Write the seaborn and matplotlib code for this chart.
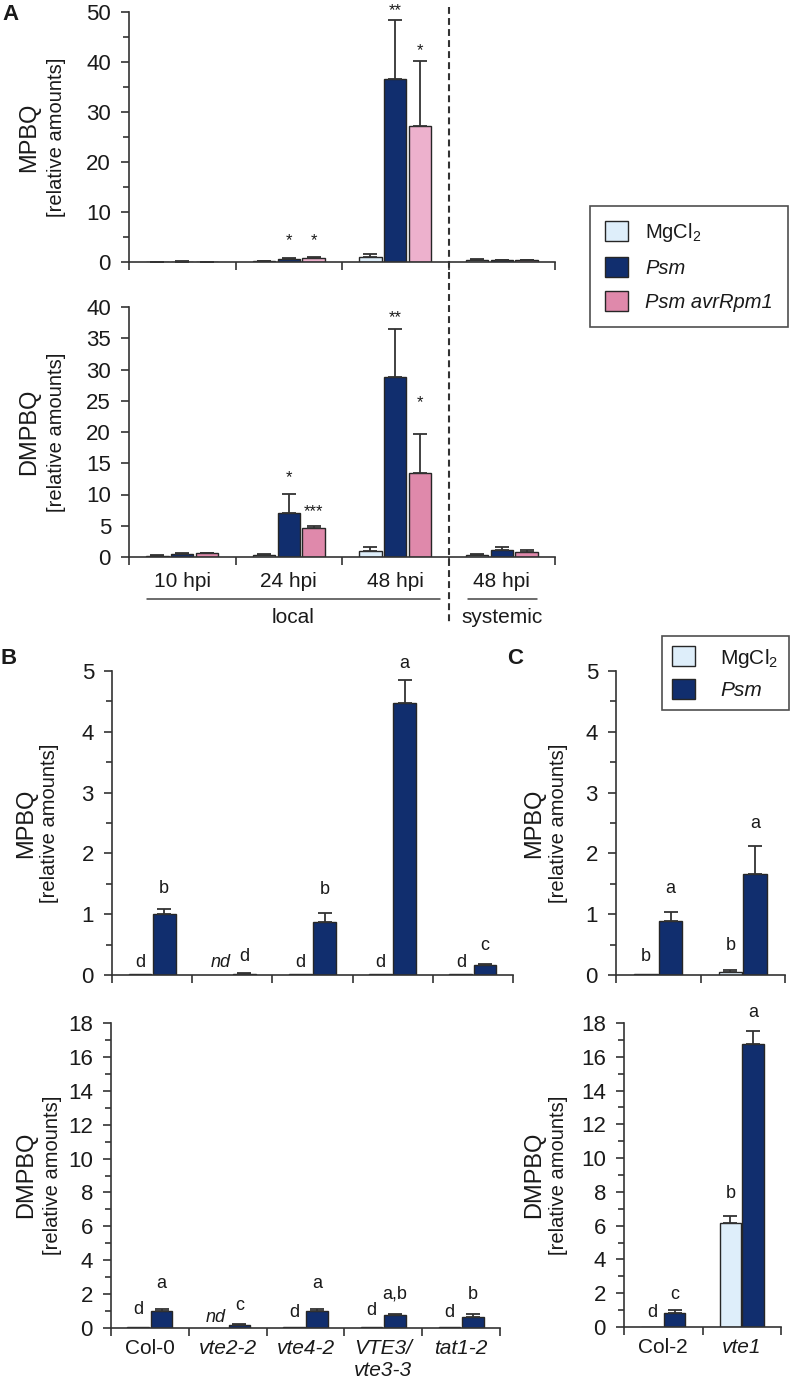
import numpy as np
import pandas as pd
import seaborn as sns
import matplotlib.pyplot as plt
from matplotlib.patches import Patch
from matplotlib.lines import Line2D
from matplotlib.ticker import MultipleLocator
from matplotlib import transforms

sns.set_style("ticks")
plt.rcParams['font.family'] = ['Liberation Sans', 'DejaVu Sans']
plt.rcParams['mathtext.fontset'] = 'custom'
plt.rcParams['mathtext.rm'] = 'Liberation Sans'
plt.rcParams['mathtext.it'] = 'Liberation Sans:italic'
plt.rcParams['axes.edgecolor'] = '#333333'
plt.rcParams['axes.linewidth'] = 1.2
plt.rcParams['xtick.color'] = '#333333'
plt.rcParams['ytick.color'] = '#333333'
plt.rcParams['xtick.labelcolor'] = '#1a1a1a'
plt.rcParams['ytick.labelcolor'] = '#1a1a1a'
plt.rcParams['text.color'] = '#1a1a1a'

W, H = 792, 1381

# colours
c_mg = "#deeefa"
c_psm = "#112e6e"
c_avr_top = "#edb1cd"
c_avr = "#df89ab"
edge = "#262626"

# ---------------- panel A (time course) ----------------
treat_a = ["MgCl2", "Psm", "Psm avrRpm1"]
times = ["10 hpi", "24 hpi", "48 hpi", "48 hpi sys"]
time_labels = ["10 hpi", "24 hpi", "48 hpi", "48 hpi"]

mpbq_mg = [0.05, 0.2, 1.0, 0.5]
mpbq_mg_err = [0.02, 0.05, 0.6, 0.1]
mpbq_psm = [0.1, 0.7, 36.7, 0.4]
mpbq_psm_err = [0.05, 0.2, 11.7, 0.1]
mpbq_avr = [0.05, 0.8, 27.2, 0.35]
mpbq_avr_err = [0.02, 0.25, 13.1, 0.15]
mpbq_star_grp = ["24 hpi", "24 hpi", "48 hpi", "48 hpi"]
mpbq_star_trt = ["Psm", "Psm avrRpm1", "Psm", "Psm avrRpm1"]
mpbq_star_txt = ["*", "*", "**", "*"]
mpbq_star_y = [5.2, 5.2, 51.2, 43.2]

dm_mg = [0.2, 0.4, 1.0, 0.4]
dm_mg_err = [0.05, 0.1, 0.6, 0.1]
dm_psm = [0.5, 7.1, 28.8, 1.1]
dm_psm_err = [0.2, 3.0, 7.7, 0.5]
dm_avr = [0.6, 4.6, 13.5, 0.8]
dm_avr_err = [0.1, 0.4, 6.2, 0.4]
dm_star_grp = ["24 hpi", "24 hpi", "48 hpi", "48 hpi"]
dm_star_trt = ["Psm", "Psm avrRpm1", "Psm", "Psm avrRpm1"]
dm_star_txt = ["*", "***", "**", "*"]
dm_star_y = [13.4, 8.0, 39.0, 25.4]

# ---------------- panel B (mutants) ----------------
treat_bc = ["MgCl2", "Psm"]
geno_b = ["Col-0", "vte2-2", "vte4-2", "VTE3/vte3-3", "tat1-2"]
geno_b_labels = ["Col-0", "vte2-2", "vte4-2", "VTE3/\nvte3-3", "tat1-2"]

b_mp_mg = [0.01, 0.0, 0.01, 0.015, 0.01]
b_mp_mg_err = [0, 0, 0, 0, 0]
b_mp_psm = [1.0, 0.02, 0.87, 4.47, 0.16]
b_mp_psm_err = [0.08, 0.005, 0.15, 0.38, 0.02]
b_mp_mg_txt = ["d", "nd", "d", "d", "d"]
b_mp_mg_ty = [0.21, 0.2, 0.21, 0.21, 0.21]
b_mp_psm_txt = ["b", "d", "b", "a", "c"]
b_mp_psm_ty = [1.43, 0.3, 1.4, 5.13, 0.49]

b_dm_mg = [0.03, 0.0, 0.03, 0.03, 0.03]
b_dm_mg_err = [0, 0, 0, 0, 0]
b_dm_psm = [1.0, 0.2, 1.0, 0.78, 0.62]
b_dm_psm_err = [0.1, 0.03, 0.12, 0.03, 0.2]
b_dm_mg_txt = ["d", "nd", "d", "d", "d"]
b_dm_mg_ty = [1.1, 0.6, 0.9, 1.05, 0.9]
b_dm_psm_txt = ["a", "c", "a", "a,b", "b"]
b_dm_psm_ty = [2.65, 1.3, 2.65, 2.0, 2.0]

# ---------------- panel C (vte1) ----------------
geno_c = ["Col-2", "vte1"]
c_mp_mg = [0.01, 0.05]
c_mp_mg_err = [0, 0.03]
c_mp_psm = [0.88, 1.66]
c_mp_psm_err = [0.15, 0.46]
c_mp_mg_txt = ["b", "b"]
c_mp_mg_ty = [0.3, 0.49]
c_mp_psm_txt = ["a", "a"]
c_mp_psm_ty = [1.43, 2.5]

c_dm_mg = [0.02, 6.15]
c_dm_mg_err = [0, 0.45]
c_dm_psm = [0.83, 16.75]
c_dm_psm_err = [0.15, 0.75]
c_dm_mg_txt = ["d", "b"]
c_dm_mg_ty = [0.83, 7.9]
c_dm_psm_txt = ["c", "a"]
c_dm_psm_ty = [1.9, 18.6]


def rect(l, r, t, b):
    return [l / W, 1 - b / H, (r - l) / W, (b - t) / H]


def draw(ax, groups, treats, vals, errs, palette, width, gap):
    rows = []
    for t, v, e in zip(treats, vals, errs):
        for g, vi, ei in zip(groups, v, e):
            rows.append((g, t, vi, ei))
    df = pd.DataFrame(rows, columns=["group", "treatment", "value", "err"])
    sns.barplot(data=df, x="group", y="value", hue="treatment", order=groups,
                hue_order=treats, palette=palette, width=width, gap=gap,
                errorbar=None, saturation=1, edgecolor=edge, linewidth=1,
                legend=False, ax=ax)
    pos = {}
    for t, cont, e in zip(treats, ax.containers, errs):
        bars = sorted(cont.patches, key=lambda p: p.get_x())
        for g, p, ei in zip(groups, bars, e):
            xc = p.get_x() + p.get_width() / 2
            pos[(g, t)] = (xc, p)
            if ei > 0:
                ax.errorbar(xc, p.get_height(), yerr=[[0], [ei]], fmt='none',
                            ecolor='#333333', elinewidth=1.3, capsize=5,
                            capthick=1.3, zorder=3)
    return pos


def style(ax, ymax, major, minor, labels, pad_x, italic=()):
    n = len(labels)
    ax.set_ylim(0, ymax)
    ax.set_xlim(-0.5, n - 0.5)
    ax.yaxis.set_major_locator(MultipleLocator(major))
    if minor:
        ax.yaxis.set_minor_locator(MultipleLocator(minor))
    ax.set_xticks(range(n), labels)
    ax.set_xticks(np.arange(n + 1) - 0.5, minor=True)
    ax.tick_params(axis='x', which='major', length=0, pad=pad_x, labelsize=15)
    ax.tick_params(axis='x', which='minor', length=6, width=1.2)
    ax.tick_params(axis='y', which='major', length=6, width=1.2, labelsize=16, pad=7)
    ax.tick_params(axis='y', which='minor', length=4, width=1.2)
    for i in italic:
        ax.get_xticklabels()[i].set_fontstyle('italic')
    sns.despine(ax=ax)
    ax.set_xlabel("")
    ax.set_ylabel("")


def letters(ax, pos, groups, treat, txt, ty, size=13, dy=0):
    tr = transforms.offset_copy(ax.transData, fig=fig, y=dy, units='points')
    for g, s, y in zip(groups, txt, ty):
        xc, p = pos[(g, treat)]
        style_ = 'normal'
        if s == 'nd':
            style_ = 'italic'
            p.set_visible(False)
        ax.text(xc, y, s, ha='center', va='center', fontsize=size,
                fontstyle=style_, transform=tr)


def stars(ax, pos, grp, trt, txt, ty):
    tr = transforms.offset_copy(ax.transData, fig=fig, y=-3.5, units='points')
    for g, t, s, y in zip(grp, trt, txt, ty):
        ax.text(pos[(g, t)][0], y, s, ha='center', va='center', fontsize=12, transform=tr)


def ylab(name, x1, x2, yc):
    fig.text(x1 / W, 1 - yc / H, name, rotation=90, ha='center', va='center', fontsize=17)
    fig.text(x2 / W, 1 - yc / H, "[relative amounts]", rotation=90, ha='center',
             va='center', fontsize=14.5)


fig = plt.figure(figsize=(W / 100, H / 100), dpi=100)

# ---- A top
axA1 = fig.add_axes(rect(129, 555, 12, 262))
pal_top = dict(zip(treat_a, [c_mg, c_psm, c_avr_top]))
pos = draw(axA1, times, treat_a, [mpbq_mg, mpbq_psm, mpbq_avr],
           [mpbq_mg_err, mpbq_psm_err, mpbq_avr_err], pal_top, 0.7, 0.1)
style(axA1, 50, 10, 5, ["", "", "", ""], 11)
stars(axA1, pos, mpbq_star_grp, mpbq_star_trt, mpbq_star_txt, mpbq_star_y)
ylab("MPBQ", 29, 56, 137)

# ---- A bottom
axA2 = fig.add_axes(rect(129, 555, 307, 557))
pal_bot = dict(zip(treat_a, [c_mg, c_psm, c_avr]))
pos = draw(axA2, times, treat_a, [dm_mg, dm_psm, dm_avr],
           [dm_mg_err, dm_psm_err, dm_avr_err], pal_bot, 0.7, 0.1)
style(axA2, 40, 5, None, time_labels, 11)
stars(axA2, pos, dm_star_grp, dm_star_trt, dm_star_txt, dm_star_y)
ylab("DMPBQ", 29, 56, 432)

# dashed separator and local / systemic brackets
bl1 = transforms.blended_transform_factory(axA1.transData, fig.transFigure)
fig.add_artist(Line2D([2.5, 2.5], [1 - 7 / H, 1 - 625 / H], transform=bl1,
                      color='#333333', lw=1.5, linestyle=(0, (3.3, 2))))
bl2 = transforms.blended_transform_factory(axA2.transData, fig.transFigure)
fig.add_artist(Line2D([-0.33, 2.42], [1 - 599 / H] * 2, transform=bl2, color='#444444', lw=1.1))
fig.add_artist(Line2D([2.68, 3.33], [1 - 599 / H] * 2, transform=bl2, color='#444444', lw=1.1))
fig.text(1.045, 1 - 618 / H, "local", transform=bl2, ha='center', va='center', fontsize=15)
fig.text(3.0, 1 - 618 / H, "systemic", transform=bl2, ha='center', va='center', fontsize=15)

# ---- B top
pal_bc = dict(zip(treat_bc, [c_mg, c_psm]))
axB1 = fig.add_axes(rect(112, 513, 671, 975))
pos = draw(axB1, geno_b, treat_bc, [b_mp_mg, b_mp_psm], [b_mp_mg_err, b_mp_psm_err],
           pal_bc, 0.6, 0.05)
style(axB1, 5, 1, 0.5, [""] * 5, 8)
letters(axB1, pos, geno_b, "MgCl2", b_mp_mg_txt, b_mp_mg_ty)
letters(axB1, pos, geno_b, "Psm", b_mp_psm_txt, b_mp_psm_ty)
ylab("MPBQ", 26, 50, 823)

# ---- B bottom
axB2 = fig.add_axes(rect(111, 500, 1023, 1328))
pos = draw(axB2, geno_b, treat_bc, [b_dm_mg, b_dm_psm], [b_dm_mg_err, b_dm_psm_err],
           pal_bc, 0.6, 0.07)
style(axB2, 18, 2, 1, geno_b_labels, 8, italic=(1, 2, 3, 4))
letters(axB2, pos, geno_b, "MgCl2", b_dm_mg_txt, b_dm_mg_ty)
letters(axB2, pos, geno_b, "Psm", b_dm_psm_txt, b_dm_psm_ty)
ylab("DMPBQ", 26, 53, 1175)

# ---- C top
axC1 = fig.add_axes(rect(616, 785, 671, 975))
pos = draw(axC1, geno_c, treat_bc, [c_mp_mg, c_mp_psm], [c_mp_mg_err, c_mp_psm_err],
           pal_bc, 0.58, 0.06)
style(axC1, 5, 1, 0.5, ["", ""], 8)
letters(axC1, pos, geno_c, "MgCl2", c_mp_mg_txt, c_mp_mg_ty)
letters(axC1, pos, geno_c, "Psm", c_mp_psm_txt, c_mp_psm_ty)
ylab("MPBQ", 534, 558, 823)

# ---- C bottom
axC2 = fig.add_axes(rect(624, 781, 1023, 1327))
pos = draw(axC2, geno_c, treat_bc, [c_dm_mg, c_dm_psm], [c_dm_mg_err, c_dm_psm_err],
           pal_bc, 0.58, 0.06)
style(axC2, 18, 2, 1, geno_c, 8, italic=(1,))
letters(axC2, pos, geno_c, "MgCl2", c_dm_mg_txt, c_dm_mg_ty)
letters(axC2, pos, geno_c, "Psm", c_dm_psm_txt, c_dm_psm_ty)
ylab("DMPBQ", 534, 558, 1175)

# ---- legends
mg_label = r"MgCl$_\mathregular{2}$"
hA = [Patch(facecolor=c_mg, edgecolor=edge, lw=1),
      Patch(facecolor=c_psm, edgecolor=edge, lw=1),
      Patch(facecolor=c_avr, edgecolor=edge, lw=1)]
legA = fig.legend(hA, [mg_label, "Psm", "Psm avrRpm1"], loc='upper left',
                  bbox_to_anchor=(590 / W, 1 - 206 / H), fontsize=14.5, frameon=True,
                  fancybox=False, edgecolor='#222222', handlelength=1.15,
                  handleheight=1.15, labelspacing=0.65, handletextpad=0.85,
                  borderpad=0.75, borderaxespad=0)
legA.get_frame().set_linewidth(1.2)
for t in legA.get_texts()[1:]:
    t.set_fontstyle('italic')

hC = [Patch(facecolor=c_mg, edgecolor=edge, lw=1),
      Patch(facecolor=c_psm, edgecolor=edge, lw=1)]
legC = fig.legend(hC, [mg_label, "Psm"], loc='upper left',
                  bbox_to_anchor=(662 / W, 1 - 636 / H), fontsize=15, frameon=True,
                  fancybox=False, edgecolor='#222222', handlelength=1.1,
                  handleheight=1.1, labelspacing=0.45, handletextpad=1.2,
                  borderpad=0.5, borderaxespad=0)
legC.get_frame().set_linewidth(1.2)
legC.get_texts()[1].set_fontstyle('italic')

# ---- panel letters
fig.text(2 / W, 1 - 15 / H, "A", fontsize=16, fontweight='bold', ha='left', va='center')
fig.text(1 / W, 1 - 658 / H, "B", fontsize=16, fontweight='bold', ha='left', va='center')
fig.text(507 / W, 1 - 658 / H, "C", fontsize=16, fontweight='bold', ha='left', va='center')

fig.savefig("out.png", dpi=100)
